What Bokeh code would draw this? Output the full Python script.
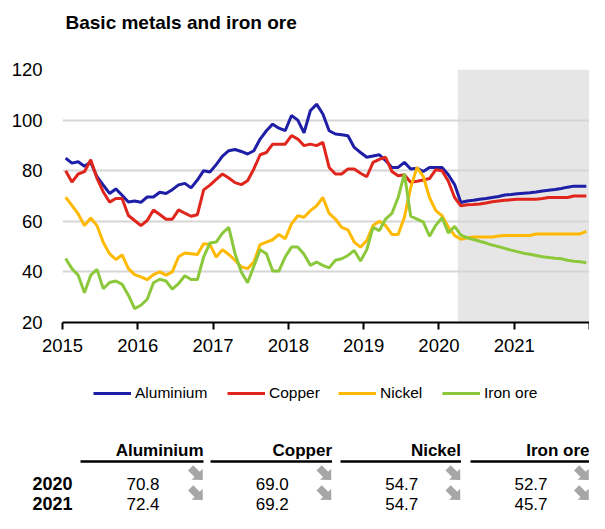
import math
from bokeh.plotting import figure
from bokeh.layouts import column
from bokeh.models import Range1d, FixedTicker, BoxAnnotation, Legend, LegendItem
from bokeh.core.properties import value
from bokeh.embed import file_html
from bokeh.resources import INLINE

# ---------------- data ----------------
title_text = "Basic metals and iron ore"
series_names = ["Aluminium", "Copper", "Nickel", "Iron ore"]
months = list(range(84))  # Jan 2015 .. Dec 2021, index of month
aluminium = [
    85.0, 83.0, 83.5, 81.8, 83.3, 77.6, 74.3, 71.0, 72.8, 70.3, 67.6, 68.0,
    67.5, 69.6, 69.6, 71.5, 71.0, 72.5, 74.4, 75.0, 73.2, 76.3, 80.0, 79.5,
    82.4, 85.8, 87.9, 88.4, 87.6, 86.6, 87.9, 92.5, 95.8, 98.4, 96.8, 95.8,
    101.8, 100.0, 95.0, 103.7, 106.3, 102.4, 95.8, 94.5, 94.2, 93.8, 89.2, 87.2,
    85.3, 85.8, 86.3, 84.0, 81.3, 81.3, 83.3, 80.7, 81.0, 79.7, 81.3, 81.3,
    81.3, 78.4, 74.5, 67.4, 68.0, 68.3, 68.7, 69.0, 69.4, 69.8, 70.4, 70.6,
    70.9, 71.1, 71.3, 71.6, 72.0, 72.3, 72.6, 73.0, 73.5, 73.9, 73.9, 73.9,
]
copper = [
    80.0, 75.5, 78.7, 79.6, 84.3, 77.0, 71.6, 67.6, 69.0, 69.0, 62.3, 60.3,
    58.3, 60.3, 64.5, 62.7, 60.8, 60.8, 64.5, 63.2, 62.0, 62.6, 72.4, 74.3,
    76.6, 78.7, 77.1, 75.3, 74.5, 76.0, 80.7, 86.3, 87.2, 90.5, 90.5, 90.5,
    93.9, 92.5, 89.9, 90.5, 89.9, 91.2, 81.3, 78.7, 78.7, 80.7, 80.7, 79.0,
    77.6, 83.3, 84.5, 85.3, 79.7, 78.0, 78.4, 75.4, 75.8, 76.3, 76.9, 80.4,
    80.0, 75.8, 69.4, 66.1, 66.5, 66.6, 66.8, 67.2, 67.7, 68.0, 68.3, 68.5,
    68.7, 68.7, 68.7, 68.7, 69.0, 69.4, 69.4, 69.4, 69.4, 70.0, 70.0, 70.0,
]
nickel = [
    69.5, 66.3, 62.9, 58.3, 61.3, 58.3, 51.6, 47.2, 44.9, 46.7, 41.3, 38.9,
    38.0, 36.9, 38.9, 40.0, 38.7, 40.0, 46.0, 47.5, 47.2, 46.9, 51.1, 50.8,
    45.9, 48.8, 46.9, 44.6, 42.0, 41.3, 43.9, 50.8, 51.8, 52.7, 54.8, 53.1,
    59.0, 62.2, 61.6, 64.2, 66.1, 69.4, 63.1, 60.9, 57.6, 56.6, 51.8, 49.8,
    52.4, 58.3, 60.0, 58.3, 54.8, 54.8, 61.6, 73.3, 81.3, 77.8, 69.4, 64.2,
    62.2, 57.7, 54.4, 52.9, 53.5, 53.8, 53.8, 53.8, 53.8, 54.2, 54.4, 54.4,
    54.4, 54.4, 54.4, 55.0, 55.0, 55.0, 55.0, 55.0, 55.0, 55.0, 55.0, 56.0,
]
iron_ore = [
    45.3, 41.3, 38.7, 31.8, 38.7, 41.0, 33.4, 35.8, 36.4, 35.1, 30.8, 25.5,
    26.8, 29.2, 35.7, 37.1, 36.4, 33.2, 35.4, 38.5, 37.0, 37.0, 45.9, 51.4,
    51.8, 55.3, 57.6, 47.2, 40.0, 35.7, 42.2, 48.8, 47.2, 40.4, 40.4, 45.9,
    49.8, 49.8, 47.0, 42.6, 43.9, 42.6, 41.6, 44.6, 45.2, 46.5, 48.5, 44.3,
    48.8, 57.6, 56.3, 60.9, 63.1, 69.4, 78.8, 62.0, 60.9, 59.8, 54.1, 58.4,
    61.4, 55.4, 58.0, 54.5, 53.5, 52.8, 52.1, 51.4, 50.6, 50.0, 49.3, 48.6,
    48.0, 47.4, 47.0, 46.5, 46.0, 45.7, 45.4, 45.2, 44.6, 44.2, 44.0, 43.6,
]
x_ticks = [2015, 2016, 2017, 2018, 2019, 2020, 2021, 2022]
y_ticks = [20, 40, 60, 80, 100, 120]
forecast_start = 2020.25

table_years = ["2020", "2021"]
table_2020 = [70.8, 69.0, 54.7, 52.7]
table_2021 = [72.4, 69.2, 54.7, 45.7]
trend_2020 = ["down", "down", "down", "down"]
trend_2021 = ["down", "down", "down", "down"]

# ---------------- styles / layout ----------------
FONT_NAME = "Liberation Sans"
FONT = value(FONT_NAME)
colors = ["#1e1ea6", "#e0261c", "#ffb900", "#8cc83c"]
x_vals = [2015 + (m + 0.5) / 12 for m in months]
W = 589
TITLE_H = 40            # title strip: 0..40
CHART_BOTTOM = 360      # chart figure: 40..360
PAGE_BOTTOM = 513       # legend + table figure: 360..513
FRAME_TOP, FRAME_BOTTOM = 69, 322


def blank_figure(top, bottom):
    f = figure(width=W, height=bottom - top, output_backend="svg",
               toolbar_location=None, x_range=Range1d(0, W),
               y_range=Range1d(bottom, top), x_axis_location=None,
               y_axis_location=None, min_border=0)
    f.frame_align = False
    f.outline_line_color = None
    f.grid.visible = False
    f.background_fill_color = "white"
    f.border_fill_color = "white"
    return f


# ---------------- title ----------------
tt = blank_figure(0, TITLE_H)
tt.text(x=[65], y=[22], text=[title_text], text_align="left",
        text_baseline="middle", text_font=FONT, text_font_style="bold",
        text_font_size="19px", text_color="black")

# ---------------- chart ----------------
p = figure(width=W, height=CHART_BOTTOM - TITLE_H, output_backend="svg",
           toolbar_location=None, x_range=Range1d(2015, 2022),
           y_range=Range1d(20, 120), min_border_left=62, min_border_right=0,
           min_border_top=FRAME_TOP - TITLE_H,
           min_border_bottom=CHART_BOTTOM - FRAME_BOTTOM)
p.frame_align = False
p.outline_line_color = None
p.background_fill_color = "white"
p.border_fill_color = "white"

p.add_layout(BoxAnnotation(left=forecast_start, fill_color="#e6e6e6",
                           fill_alpha=1, line_color=None, level="image"))

p.xgrid.visible = False
p.ygrid.ticker = FixedTicker(ticks=y_ticks[1:])
p.ygrid.grid_line_color = "#d6d6d6"
p.ygrid.grid_line_width = 2

xa = p.xaxis[0]
xa.ticker = FixedTicker(ticks=x_ticks)
xa.major_label_overrides = {2022: ""}
xa.axis_line_color = "black"
xa.axis_line_width = 2
xa.major_tick_line_color = "black"
xa.major_tick_line_width = 2
xa.major_tick_out = 7
xa.major_tick_in = 0
xa.minor_tick_line_color = None
xa.major_label_standoff = 9
xa.major_label_text_font = FONT_NAME
xa.major_label_text_font_size = "18.5px"
xa.major_label_text_color = "black"

ya = p.yaxis[0]
ya.ticker = FixedTicker(ticks=y_ticks)
ya.axis_line_color = None
ya.major_tick_line_color = None
ya.minor_tick_line_color = None
ya.major_label_standoff = 14
ya.major_label_text_font = FONT_NAME
ya.major_label_text_font_size = "18.5px"
ya.major_label_text_color = "black"

for vals, c in zip([aluminium, copper, nickel, iron_ore], colors):
    p.line(x_vals, vals, line_width=3, line_color=c)

# ---------------- legend + table ----------------
t = blank_figure(CHART_BOTTOM, PAGE_BOTTOM)

# legend keys: one-point (NaN) renderers carrying each series' line style
legend_left = [93, 227, 338, 442]
legend_center_y = 393
legend_h = 20
for name, c, lx in zip(series_names, colors, legend_left):
    key = t.line(x=[float("nan")], y=[float("nan")], line_width=3, line_color=c)
    leg = Legend(items=[LegendItem(label=name, renderers=[key])],
                 location=(lx, PAGE_BOTTOM - legend_center_y - legend_h / 2),
                 orientation="horizontal",
                 glyph_width=38, glyph_height=legend_h, label_standoff=4,
                 label_height=legend_h, padding=0, margin=0, spacing=0,
                 border_line_color=None, background_fill_alpha=0,
                 label_text_font=FONT_NAME, label_text_font_size="15.5px",
                 label_text_color="black", label_text_baseline="middle")
    t.add_layout(leg)

col_left = [80, 210, 340, 470]
col_right = [203, 331.5, 460.5, 589]
col_center = [(a + b) / 2 + 1 for a, b in zip(col_left, col_right)]
header_y = 450
rule_y = 461
row_y = [483, 503]
arrow_dy = -10

t.text(x=col_right, y=[header_y] * 4, text=series_names, text_align="right",
       text_baseline="middle", text_font=FONT, text_font_style="bold",
       text_font_size="17px", text_color="black")
t.segment(x0=col_left, x1=col_right, y0=[rule_y] * 4, y1=[rule_y] * 4,
          line_width=2.5, line_color="black")
t.text(x=[32, 32], y=row_y, text=table_years, text_align="left",
       text_baseline="middle", text_font=FONT, text_font_style="bold",
       text_font_size="18px", text_color="black")

# block arrow icon (pointing east), rotated to the trend direction
arrow_shape = [(-7, -3.2), (1, -3.2), (1, -6.8), (8, 0), (1, 6.8), (1, 3.2), (-7, 3.2)]
arrow_scale = 1.15
trend_angle = {"down": math.pi / 4, "up": -math.pi / 4}
xs_arrows, ys_arrows = [], []
for ry, vals, trends in zip(row_y, [table_2020, table_2021], [trend_2020, trend_2021]):
    t.text(x=col_center, y=[ry] * 4, text=[f"{v:.1f}" for v in vals],
           text_align="center", text_baseline="middle", text_font=FONT,
           text_font_size="17px", text_color="black")
    for xr, trend in zip(col_right, trends):
        a = trend_angle[trend]
        cx, cy = xr - 7.2, ry + arrow_dy
        xs_arrows.append([cx + arrow_scale * (px * math.cos(a) - py * math.sin(a)) for px, py in arrow_shape])
        ys_arrows.append([cy + arrow_scale * (px * math.sin(a) + py * math.cos(a)) for px, py in arrow_shape])
t.patches(xs_arrows, ys_arrows, fill_color="#a6a6a6", line_color=None)

layout = column(tt, p, t, spacing=0)
open("out.html", "w").write(file_html(layout, INLINE))
